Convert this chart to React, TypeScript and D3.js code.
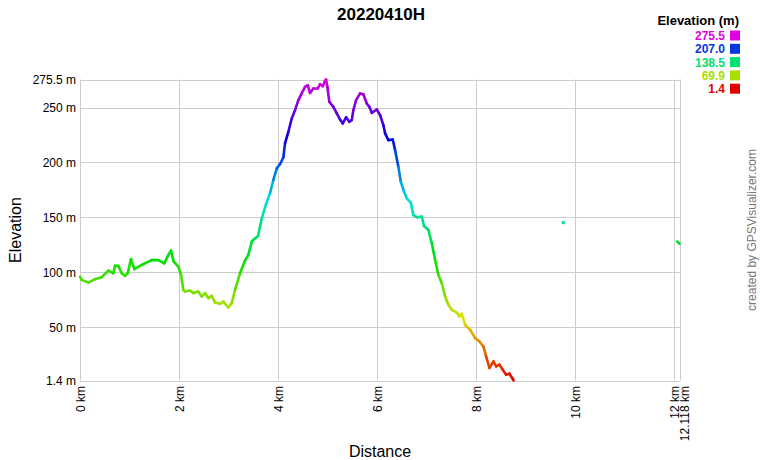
import React from "react";
import * as d3 from "d3";

const TITLE = "20220410H";
const yTickValues = [1.4, 50, 100, 150, 200, 250, 275.5];
const yTickLabels = ["1.4 m", "50 m", "100 m", "150 m", "200 m", "250 m", "275.5 m"];
const xTickValues = [0, 2, 4, 6, 8, 10, 12, 12.118];
const xTickLabels = ["0 km", "2 km", "4 km", "6 km", "8 km", "10 km", "12 km", "12.118 km"];
const legendValues = [275.5, 207.0, 138.5, 69.9, 1.4];
const legendLabels = ["275.5", "207.0", "138.5", "69.9", "1.4"];

const trackKm = [
  0, 0.034, 0.168, 0.303, 0.438, 0.572, 0.673, 0.707, 0.774, 0.842, 0.909, 0.964, 1.03, 1.097,
  1.246, 1.448, 1.582, 1.703, 1.784, 1.838, 1.893, 1.986, 2.04, 2.087, 2.121, 2.222, 2.289,
  2.39, 2.459, 2.525, 2.592, 2.661, 2.727, 2.828, 2.895, 2.996, 3.065, 3.131, 3.232, 3.333,
  3.4, 3.469, 3.515, 3.596, 3.677, 3.758, 3.838, 3.905, 3.974, 4.04, 4.107, 4.141, 4.208,
  4.277, 4.343, 4.41, 4.479, 4.545, 4.6, 4.646, 4.713, 4.802, 4.848, 4.903, 4.949, 4.97,
  4.996, 5.036, 5.117, 5.186, 5.253, 5.307, 5.374, 5.44, 5.489, 5.521, 5.576, 5.657, 5.723,
  5.792, 5.844, 5.893, 5.994, 6.061, 6.127, 6.162, 6.228, 6.317, 6.364, 6.43, 6.479, 6.545,
  6.6, 6.681, 6.733, 6.814, 6.903, 6.949, 7.036, 7.105, 7.172, 7.238, 7.307, 7.374, 7.44,
  7.509, 7.61, 7.663, 7.711, 7.778, 7.879, 7.98, 8.067, 8.147, 8.202, 8.269, 8.35, 8.404,
  8.471, 8.539, 8.606, 8.673, 8.741, 8.758,
];
const trackEle = [
  96, 93, 90.6, 93.7, 95.5, 101.5, 99, 105.8, 105.8, 99, 96.7, 99, 112, 102.8,
  106.6, 111, 111, 108, 115.8, 119.7, 109.7, 105, 97.6, 84, 82.4, 83.3, 81,
  82.4, 77.9, 81, 76.4, 78.5, 72.4, 71.2, 73.3, 67.9, 71.9, 84, 99, 110.6,
  115.8, 127.9, 130, 133, 150, 162, 171.9, 184, 194.6, 198.5, 204.6, 217.3, 227.9,
  240, 247.6, 256.7, 262.8, 268.8, 270.3, 263.3, 267.3, 267.3, 271.2, 269.4, 274.2, 275.5,
  268.8, 255.1, 250.6, 244.6, 239, 235.5, 241, 237, 238.5, 247.6, 256.7, 262.8, 262.1,
  253.7, 250.6, 245.1, 248.2, 243, 234, 226.4, 220.3, 220.9, 211, 196, 182.4, 173.3,
  167.3, 163.3, 152.1, 150, 150.6, 142.1, 138.5, 126.4, 111.2, 97.6, 90, 77.9, 70.3,
  65.8, 63.3, 59.7, 62.1, 52.1, 47.6, 40, 36.9, 32.4, 23.3, 12.8, 18.8, 14.2,
  15.8, 11.2, 6.7, 7.6, 2.8, 1.4,
];
const strayPointKm = [9.76];
const strayPointEle = [145.1];
const tailKm = [12.06, 12.085, 12.11];
const tailEle = [128, 127, 126];

const W = 760;
const H = 460;
const FONT = "Liberation Sans, Arial, sans-serif";

export default function App() {
  const x = d3.scaleLinear().domain([0, 12.118]).range([80, 680]);
  const y = d3.scaleLinear().domain([1.4, 275.5]).range([380.5, 79.5]);
  const color = (e: number) => {
    const t = (e - 1.4) / (275.5 - 1.4);
    return d3.hsl(300 * Math.max(0, Math.min(1, t)), 1, 0.44).formatHex();
  };

  const segs: React.ReactNode[] = [];
  const addSegs = (ks: number[], es: number[], prefix: string) => {
    for (let i = 0; i < ks.length - 1; i++) {
      const e = (es[i] + es[i + 1]) / 2;
      segs.push(
        <line
          key={prefix + i}
          x1={x(ks[i])}
          y1={y(es[i])}
          x2={x(ks[i + 1])}
          y2={y(es[i + 1])}
          stroke={color(e)}
          strokeWidth={2.6}
          strokeLinecap="round"
        />
      );
    }
  };
  addSegs(trackKm, trackEle, "s");
  addSegs(tailKm, tailEle, "t");

  const grid = "#cccccc";
  const xr = x.range();
  const yr = y.range();

  return (
    <svg
      width={W}
      height={H}
      style={{ position: "absolute", left: 0, top: 0, background: "#fff" }}
      fontFamily={FONT}
    >
      <rect x={0} y={0} width={W} height={H} fill="#fff" />
      {yTickValues.map((v, i) => (
        <line key={"hg" + i} x1={xr[0]} x2={xr[1]} y1={Math.round(y(v)) + 0.5} y2={Math.round(y(v)) + 0.5} stroke={grid} strokeWidth={1} />
      ))}
      {xTickValues.map((v, i) => (
        <line key={"vg" + i} y1={yr[1]} y2={yr[0]} x1={Math.round(x(v)) + 0.5} x2={Math.round(x(v)) + 0.5} stroke={grid} strokeWidth={1} />
      ))}
      {yTickValues.map((v, i) => (
        <text key={"yl" + i} x={76} y={y(v) + 4.5} textAnchor="end" fontSize={12} fill="#000">
          {yTickLabels[i]}
        </text>
      ))}
      {xTickValues.map((v, i) => {
        const px = i === xTickValues.length - 1 ? x(v) + 9 : x(v) + 5;
        return (
          <text key={"xl" + i} transform={`translate(${px},386) rotate(-90)`} textAnchor="end" fontSize={12} fill="#000">
            {xTickLabels[i]}
          </text>
        );
      })}
      <g>{segs}</g>
      {strayPointKm.map((k, i) => (
        <rect key={"p" + i} x={x(k) - 1.5} y={y(strayPointEle[i]) - 1.5} width={3} height={3} fill={color(strayPointEle[i])} />
      ))}
      <text x={381} y={20} textAnchor="middle" fontSize={17} fontWeight="bold" fill="#000">
        {TITLE}
      </text>
      <text transform="translate(21,230) rotate(-90)" textAnchor="middle" fontSize={16} fill="#000">
        Elevation
      </text>
      <text x={380} y={457} textAnchor="middle" fontSize={16} fill="#000">
        Distance
      </text>
      <text x={739} y={25} textAnchor="end" fontSize={13} fontWeight="bold" fill="#000">
        Elevation (m)
      </text>
      {legendValues.map((v, i) => (
        <g key={"lg" + i}>
          <text x={725} y={40 + i * 13.3} textAnchor="end" fontSize={12} fontWeight="bold" fill={color(v)}>
            {legendLabels[i]}
          </text>
          <rect x={730} y={30.5 + i * 13.3} width={10} height={10} fill={color(v)} />
        </g>
      ))}
      <text transform="translate(755.5,230) rotate(-90)" textAnchor="middle" fontSize={12} fill="#777">
        created by GPSVisualizer.com
      </text>
    </svg>
  );
}
